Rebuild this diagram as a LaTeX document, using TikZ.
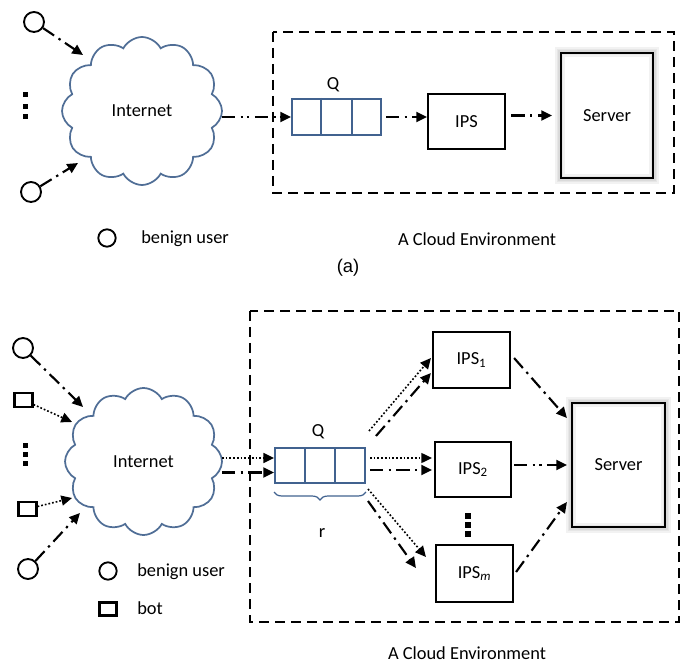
\documentclass[tikz,border=0pt]{standalone}
\usepackage{fontspec}
\setmainfont{Carlito}
\newfontfamily\arialfont{Liberation Sans}
\usetikzlibrary{arrows.meta,shapes.symbols,calc,decorations.pathreplacing}
\definecolor{qblue}{RGB}{65,98,143}
\definecolor{cblue}{RGB}{80,110,150}
\begin{document}
\begin{tikzpicture}[x=0.75pt,y=-0.75pt,
  every node/.style={font=\fontsize{13.8}{16}\selectfont},
  box/.style={draw,line width=1.6pt,inner sep=0pt},
  queue/.style={draw=qblue,line width=1.5pt,inner sep=0pt},
  cloudnode/.style={cloud,cloud puffs=12,cloud puff arc=125,cloud ignores aspect,draw=cblue,line width=1.3pt,inner sep=0pt},
  user/.style={circle,draw,line width=1.4pt,minimum size=15pt,inner sep=0pt},
  botbox/.style={draw,line width=1.6pt,inner sep=0pt,minimum width=13.5pt,minimum height=11pt},
  cloudenv/.style={draw,line width=1.6pt,dash pattern=on 7.5pt off 4.5pt},
  arr/.style={-{Triangle[length=8pt,width=7.5pt]},line width=1.6pt},
  dd/.style={arr,dash pattern=on 10pt off 4pt on 1.8pt off 4pt},
  ddd/.style={arr,dash pattern=on 10pt off 4pt on 1.8pt off 3pt on 1.8pt off 4pt},
  dt/.style={-{Triangle[length=8pt,width=7.5pt]},line width=1.2pt,dash pattern=on 1.3pt off 1.5pt},
  txt/.style={inner sep=0pt,anchor=west},
  glow/.style={line width=#1,black,opacity=0.05}
]
\useasboundingbox (0,0) rectangle (685,666);

%%%%%%%%%%%%%%%% (a) %%%%%%%%%%%%%%%%
\draw[cloudenv] (273,32) rectangle (674,193);
\node[cloudnode,minimum width=120pt,minimum height=111pt] (cloudA) at (142,111) {Internet};
\node[user] (ua1) at (34,22) {};
\node[user] (ua2) at (31,192) {};
\foreach \yy in {92.5,104.5,114.5} \fill (22.5,\yy) rectangle (27.5,\yy+5);
\coordinate (ta1) at (83,55);
\coordinate (ta2) at (78,163);
\draw[dd] (ua1) -- (ta1);
\draw[dd] (ua2) -- (ta2);

\node[queue,minimum width=66.75pt,minimum height=27pt] (qa) at (336.5,117) {};
\draw[qblue,line width=1.5pt] ($(qa.north west)!1/3!(qa.north east)$) -- ($(qa.south west)!1/3!(qa.south east)$);
\draw[qblue,line width=1.5pt] ($(qa.north west)!2/3!(qa.north east)$) -- ($(qa.south west)!2/3!(qa.south east)$);
\node (qla) at (333,85) {Q};

\node[box,minimum width=57.75pt,minimum height=41.25pt] (ipsa) at (466.5,121.5) {IPS};
\node[box,minimum width=69pt,minimum height=93.75pt] (srva) at (607,115.5) {Server};
\foreach \w in {8pt,5pt,2.5pt} \draw[glow=\w] (srva.north west) rectangle (srva.south east);

\coordinate (ca) at (222,117);
\draw[ddd] (ca) -- (qa.west);
\draw[dd,shorten <=3pt] (qa.east) -- (qa.east -| ipsa.west);
\draw[dd,shorten <=4pt,shorten >=6pt] (ipsa.east |- srva) -- (srva.west);

\node[user,minimum size=13pt] (lga) at (107,238) {};
\node[txt] (lgta) at (141,239) {benign user};
\node (envA) at (477,239) {A Cloud Environment};
\node (capa) at (348,268) {\arialfont (a)};

%%%%%%%%%%%%%%%% (b) %%%%%%%%%%%%%%%%
\draw[cloudenv] (250,311) rectangle (679,622);
\node[cloudnode,minimum width=117.75pt,minimum height=110.25pt] (cloudB) at (143.5,461.5) {Internet};
\node[user] (ub1) at (23,348) {};
\node[botbox] (bb1) at (23.5,400) {};
\foreach \yy in {442.5,451.5,460.5} \fill (22.5,\yy) rectangle (27.5,\yy+5);
\node[botbox] (bb2) at (27.5,509) {};
\node[user] (ub2) at (28,569) {};
\coordinate (tb1) at (83,407);
\coordinate (tb2) at (72,422);
\coordinate (tb3) at (72,498);
\coordinate (tb4) at (80,513);
\draw[dd] (ub1) -- (tb1);
\draw[dt] (bb1) -- (tb2);
\draw[dt] (bb2) -- (tb3);
\draw[dd] (ub2) -- (tb4);

\node[queue,minimum width=67.5pt,minimum height=26.25pt] (qb) at (320,465.5) {};
\draw[qblue,line width=1.5pt] ($(qb.north west)!1/3!(qb.north east)$) -- ($(qb.south west)!1/3!(qb.south east)$);
\draw[qblue,line width=1.5pt] ($(qb.north west)!2/3!(qb.north east)$) -- ($(qb.south west)!2/3!(qb.south east)$);
\node (qlb) at (318,432) {Q};
\draw[qblue,line width=0.9pt,decorate,decoration={brace,mirror,amplitude=6pt}] ($(qb.south west)+(0,8)$) -- ($(qb.south east)+(0,8)$);
\node (rlb) at (322,533) {r};

\coordinate (cb1) at (222,458);
\coordinate (cb2) at (222,472.5);
\draw[dt] (cb1) -- ($(qb.west)+(0,-7.5)$);
\draw[dd] (cb2) -- ($(qb.west)+(0,7)$);

\node[box,minimum width=57.75pt,minimum height=42pt] (ips1) at (471.5,360) {IPS\textsubscript{1}};
\node[box,minimum width=57pt,minimum height=41.25pt] (ips2) at (473,469.5) {IPS\textsubscript{2}};
\node[box,minimum width=57.75pt,minimum height=42.75pt] (ipsm) at (474.5,573.5) {IPS\textsubscript{\textit{m}}};
\foreach \yy in {513,522,531} \fill (465,\yy) rectangle (471,\yy+6);
\node[box,minimum width=69.75pt,minimum height=93pt] (srvb) at (618.5,465) {Server};
\foreach \w in {8pt,5pt,2.5pt} \draw[glow=\w] (srvb.north west) rectangle (srvb.south east);

% queue -> IPS
\draw[dt] ($(qb.north east)+(3,-16)$) -- ($(ips1.west)+(-1,-2)$);
\draw[dd] ($(qb.north east)+(10,-11)$) -- ($(ips1.west)+(-1,13)$);
\draw[dt] ($(qb.east)+(4,-7.5)$) -- ($(ips2.west)+(-2,-11.5)$);
\draw[dd] ($(qb.east)+(4,4.5)$) -- ($(ips2.west)+(-2,0.5)$);
\draw[dt] ($(qb.south east)+(2,5)$) -- ($(ipsm.west)+(-9,-16.5)$);
\draw[dd] ($(qb.south east)+(2,17)$) -- ($(ipsm.west)+(-19,-5.5)$);

% IPS -> server
\draw[dd] ($(ips1.east)+(3,-2)$) -- ($(srvb.west)+(-4,-47)$);
\draw[ddd] ($(ips2.east)+(2,-4.5)$) -- ($(srvb.west)+(-4,0)$);
\draw[dd] ($(ipsm.east)+(2,-1.5)$) -- ($(srvb.west)+(-4,37)$);

\node[user,minimum size=13pt] (lgb1) at (108,571) {};
\node[botbox,minimum width=12.75pt,minimum height=9.75pt] (lgb2) at (108,609) {};
\node[txt] (lgtb1) at (137,572) {benign user};
\node[txt] (lgtb2) at (137,608) {bot};
\node (envB) at (467,653) {A Cloud Environment};
\end{tikzpicture}
\end{document}
